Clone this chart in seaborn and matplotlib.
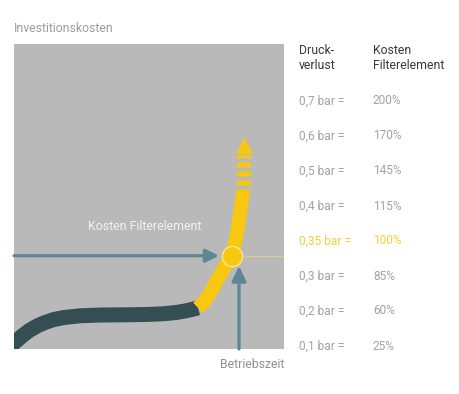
import numpy as np
import pandas as pd
import matplotlib
matplotlib.use("Agg")
import matplotlib.pyplot as plt
import seaborn as sns

# ---- data ----
# cost curve: operating time (x) vs investment cost (y), arbitrary units
time_low = [-6, 0, 8, 16, 24, 31, 40, 50, 66, 86, 113, 135, 150, 163, 172, 179, 184]
cost_low = [1, 6, 13, 19, 23.5, 26.5, 29.5, 31.5, 33.2, 34, 34.2, 34.6, 35.3, 36.6, 38.2, 39.8, 41.2]
time_high = [184, 189, 194, 199, 203, 207, 210.5, 214, 217.7, 220, 222, 224, 226, 228, 229]
cost_high = [41.2, 46, 52.5, 61, 69, 75.5, 81.5, 87.5, 93.3, 102, 111, 122, 136, 149, 158]
time_dash = [230, 230]
cost_dash = [158, 194]
marker_point = (217.7, 93.3)

pressure_bar = [0.7, 0.6, 0.5, 0.4, 0.35, 0.3, 0.2, 0.1]
cost_pct = [200, 170, 145, 115, 100, 85, 60, 25]
highlight_bar = 0.35

title_y = "Investitionskosten"
title_x = "Betriebszeit"
label_cost = "Kosten Filterelement"
head_left = "Druck-\nverlust"
head_right = "Kosten\nFilterelement"

# ---- style ----
sns.set_theme(style="white")
plt.rcParams["font.family"] = ["Roboto", "DejaVu Sans"]
plt.rcParams["lines.scale_dashes"] = False

BG = "#b9b9b9"
DARK = "#344e53"
YELLOW = "#f8c810"
ARROW = "#5d8793"
GREYTXT = "#9c9c9c"

W, H = 460, 394
fig = plt.figure(figsize=(W / 100, H / 100), dpi=100)
fig.patch.set_facecolor("white")

ax = fig.add_axes([14 / W, 45 / H, 270 / W, 305 / H])
ax.set_facecolor(BG)
ax.set_xlim(0, 270)
ax.set_ylim(0, 305)
for s in ax.spines.values():
    s.set_visible(False)
ax.set_xticks([])
ax.set_yticks([])

df_low = pd.DataFrame({"t": time_low, "c": cost_low})
df_high = pd.DataFrame({"t": time_high, "c": cost_high})
df_dash = pd.DataFrame({"t": time_dash, "c": cost_dash})

sns.lineplot(data=df_low, x="t", y="c", sort=False, estimator=None, ax=ax,
             color=DARK, linewidth=10.8, solid_capstyle="butt",
             solid_joinstyle="round", zorder=3)
sns.lineplot(data=df_high, x="t", y="c", sort=False, estimator=None, ax=ax,
             color=YELLOW, linewidth=10.0, solid_capstyle="butt",
             solid_joinstyle="round", zorder=4)
ln = sns.lineplot(data=df_dash, x="t", y="c", sort=False, estimator=None, ax=ax,
                  color=YELLOW, linewidth=10.0, zorder=4).lines[-1]
ln.set_linestyle((2.6, (3.7, 2.8)))
ln.set_dash_capstyle("butt")
ax.scatter([time_dash[0]], [cost_dash[1] + 10.5], marker="^", s=11.8 ** 2,
           color=YELLOW, linewidths=0, zorder=5)

# thin guide line to the right
mx, my = marker_point
ax.plot([mx, 270], [my, my], color="#d9cb8c", lw=0.8, zorder=2)

# arrows
ax.annotate("", xy=(mx - 12.7, my), xytext=(0, my),
            arrowprops=dict(arrowstyle="-|>,head_length=8,head_width=4",
                            mutation_scale=1, color=ARROW, lw=2.3,
                            shrinkA=0, shrinkB=0), zorder=5)
ax.annotate("", xy=(mx + 7.3, my - 10.3), xytext=(mx + 7.3, 0),
            arrowprops=dict(arrowstyle="-|>,head_length=9,head_width=4.3",
                            mutation_scale=1, color=ARROW, lw=2.3,
                            shrinkA=0, shrinkB=0), zorder=5)

ax.scatter([mx], [my], s=14.6 ** 2, color=YELLOW, edgecolors="#fbe690",
           linewidths=1.0, zorder=6)

ax.text(131, 122, label_cost, color="#f3f3f3", fontsize=8.9,
        ha="center", va="center")


def fpx(x, y):
    return x / W, 1 - y / H


fig.text(*fpx(14, 29), title_y, color=GREYTXT, fontsize=8.8, ha="left", va="center")
fig.text(*fpx(284, 365), title_x, color="#909090", fontsize=8.8, ha="right", va="center")

fig.text(*fpx(299, 58), head_left, color="#383838", fontsize=8.8, ha="left",
         va="center", linespacing=1.2)
fig.text(*fpx(373, 58), head_right, color="#383838", fontsize=8.8, ha="left",
         va="center", linespacing=1.2)

for i, (p, c) in enumerate(zip(pressure_bar, cost_pct)):
    y = 101 + 35 * i
    col = "#f7cd3a" if p == highlight_bar else "#a2a2a2"
    ptxt = f"{p:g}".replace(".", ",") + " bar ="
    fig.text(*fpx(299, y), ptxt, color=col, fontsize=8.6, ha="left", va="center")
    fig.text(*fpx(373, y), f"{c}%", color=col, fontsize=8.6, ha="left", va="center")

fig.savefig("out.png", dpi=100, facecolor="white")
